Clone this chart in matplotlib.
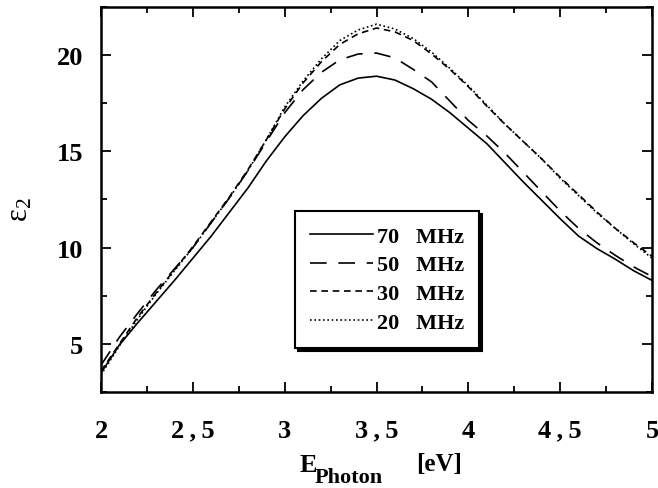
import matplotlib
matplotlib.use("Agg")
import matplotlib.pyplot as plt
from matplotlib.ticker import MultipleLocator, FixedLocator

energy = [2.0, 2.1, 2.2, 2.3, 2.4, 2.5, 2.6, 2.7, 2.8, 2.9, 3.0, 3.1, 3.2, 3.3, 3.4, 3.5,
          3.6, 3.7, 3.8, 3.9, 4.0, 4.1, 4.2, 4.3, 4.4, 4.5, 4.6, 4.7, 4.8, 4.9, 5.0]

eps_70 = [3.5, 4.95, 6.1, 7.2, 8.3, 9.45, 10.6, 11.85, 13.1, 14.5, 15.75, 16.85, 17.75, 18.45, 18.8, 18.9,
          18.7, 18.25, 17.7, 17.0, 16.2, 15.4, 14.4, 13.4, 12.45, 11.5, 10.6, 9.95, 9.4, 8.8, 8.3]
eps_50 = [3.9, 5.35, 6.6, 7.8, 8.9, 10.0, 11.3, 12.6, 14.0, 15.5, 17.0, 18.2, 19.1, 19.75, 20.05, 20.1,
          19.85, 19.25, 18.6, 17.6, 16.6, 15.8, 14.9, 13.9, 12.9, 11.9, 11.0, 10.25, 9.6, 9.0, 8.5]
eps_30 = [3.6, 5.0, 6.4, 7.65, 8.85, 10.05, 11.35, 12.65, 14.05, 15.6, 17.2, 18.55, 19.65, 20.55, 21.1, 21.4,
          21.2, 20.75, 20.05, 19.25, 18.35, 17.35, 16.4, 15.5, 14.6, 13.65, 12.75, 11.85, 11.0, 10.25, 9.55]
eps_20 = [3.4, 4.9, 6.3, 7.6, 8.8, 10.0, 11.3, 12.6, 14.0, 15.6, 17.3, 18.65, 19.8, 20.75, 21.3, 21.6,
          21.35, 20.85, 20.15, 19.3, 18.4, 17.4, 16.4, 15.5, 14.6, 13.6, 12.7, 11.8, 11.0, 10.2, 9.45]

labels = ["70   MHz", "50   MHz", "30   MHz", "20   MHz"]
xtick_vals = [2, 2.5, 3, 3.5, 4, 4.5, 5]
xtick_labels = ["2", "2\u2009,\u20095", "3", "3\u2009,\u20095", "4", "4\u2009,\u20095", "5"]
ytick_vals = [5, 10, 15, 20]

plt.rcParams['font.family'] = ['Liberation Serif', 'DejaVu Serif']
plt.rcParams['mathtext.fontset'] = 'custom'
plt.rcParams['mathtext.rm'] = 'Liberation Serif'
plt.rcParams['mathtext.it'] = 'Liberation Serif:italic'
plt.rcParams['mathtext.bf'] = 'Liberation Serif:bold'

W, H = 658, 489
fig = plt.figure(figsize=(W / 100, H / 100), dpi=100)
ax = fig.add_axes([0.1535, 0.196, 0.8375, 0.788])

lw = 1.2
ax.plot(energy, eps_70, color='black', lw=lw, linestyle='-', label=labels[0])
ax.plot(energy, eps_50, color='black', lw=lw, linestyle=(0, (10, 7)), label=labels[1])
ax.plot(energy, eps_30, color='black', lw=lw, linestyle=(0, (4, 2.8)), label=labels[2])
ax.plot(energy, eps_20, color='black', lw=lw, linestyle=(0, (1, 1.6)), label=labels[3])

ax.set_xlim(2, 5)
ax.set_ylim(2.5, 22.5)
ax.xaxis.set_major_locator(FixedLocator(xtick_vals))
ax.set_xticklabels(xtick_labels)
ax.xaxis.set_minor_locator(MultipleLocator(0.25))
ax.yaxis.set_major_locator(FixedLocator(ytick_vals))
ax.yaxis.set_minor_locator(MultipleLocator(2.5))

ax.tick_params(which='both', direction='in', top=True, right=True, width=1.3)
ax.tick_params(which='major', length=7, labelsize=19)
ax.tick_params(axis='x', which='major', pad=19)
ax.tick_params(axis='y', which='major', pad=13)
ax.tick_params(which='minor', length=4)
for lab in ax.get_xticklabels() + ax.get_yticklabels():
    lab.set_fontweight('bold')
for sp in ax.spines.values():
    sp.set_linewidth(1.8)

# x-axis label: E_Photon [eV]
fig.text(300 / W, 1 - 472 / H, 'E', fontsize=19, fontweight='bold', ha='left', va='baseline')
fig.text(315 / W, 1 - 483 / H, 'Photon', fontsize=16, fontweight='bold', ha='left', va='baseline')
fig.text(416 / W, 1 - 471 / H, '[eV]', fontsize=18, fontweight='bold', ha='left', va='baseline')

ax.set_ylabel(r'$\mathrm{ε}_{\mathrm{2}}$', fontsize=22)
ax.yaxis.set_label_coords(-0.12, 0.475)

leg = ax.legend(loc='upper left', bbox_to_anchor=(0.352, 0.47), frameon=True, fancybox=False,
                shadow={'color': 'black', 'alpha': 1.0}, edgecolor='black',
                prop={'weight': 'bold', 'size': 16}, handlelength=2.85, handletextpad=0.15,
                labelspacing=0.37, borderpad=0.68, borderaxespad=0)
leg.get_frame().set_linewidth(1.5)

fig.savefig('out.png', dpi=100)
